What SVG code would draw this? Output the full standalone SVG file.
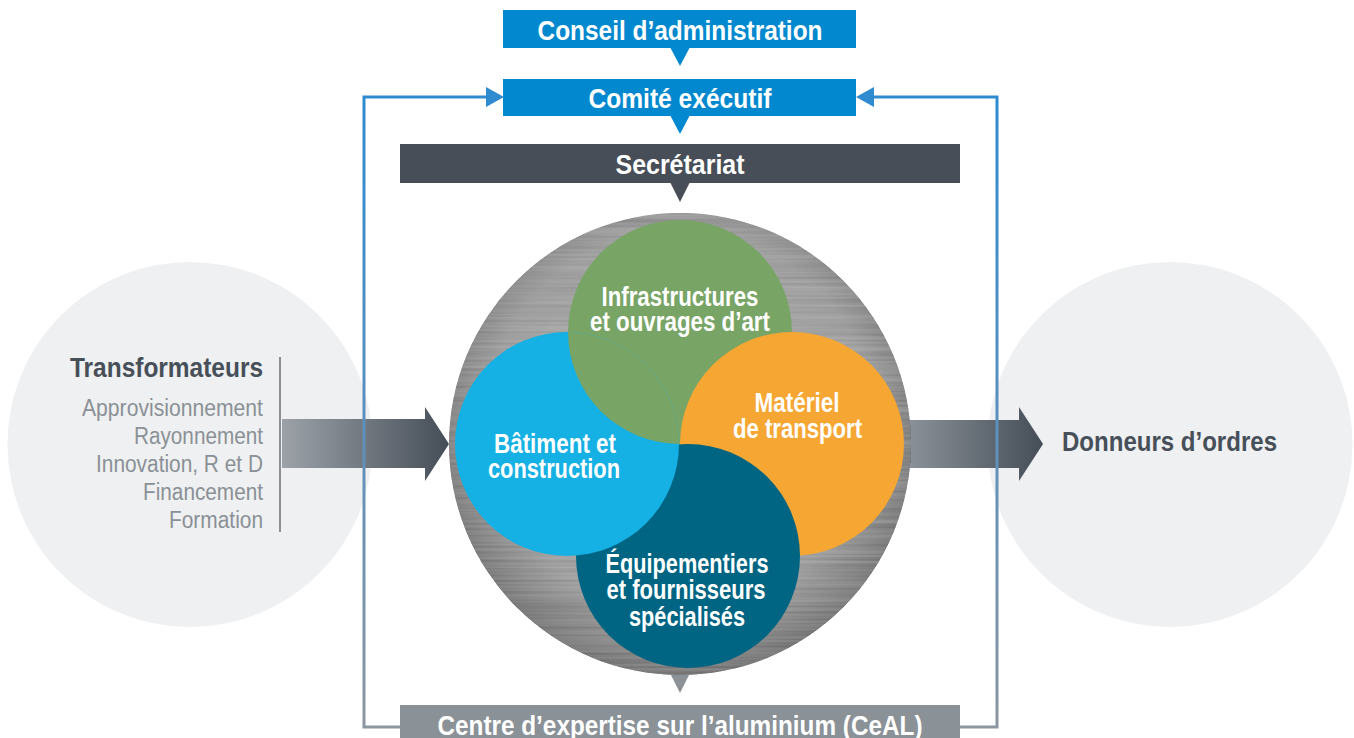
<svg xmlns="http://www.w3.org/2000/svg" width="1354" height="738" viewBox="0 0 1354 738">
<style>
.t{font-family:"Liberation Sans Narrow","Liberation Sans",Arial,sans-serif;font-weight:bold;}
.w{fill:#ffffff;}
.box{font-size:28px;}
.c{font-size:27px;text-anchor:middle;}
.dk{fill:#474F59;}
.lst{font-family:"Liberation Sans Narrow","Liberation Sans",Arial,sans-serif;font-size:23px;fill:#8A9096;text-anchor:end;}
.blue{fill:#0288CE;}
</style>
<defs>
<linearGradient id="loopg" gradientUnits="userSpaceOnUse" x1="0" y1="97" x2="0" y2="728">
<stop offset="0" stop-color="#2E8BD0"/>
<stop offset="0.5" stop-color="#5A90BE"/>
<stop offset="1" stop-color="#8C96A0"/>
</linearGradient>
<linearGradient id="la" gradientUnits="userSpaceOnUse" x1="282" y1="0" x2="449" y2="0">
<stop offset="0" stop-color="#9CA2A8"/>
<stop offset="1" stop-color="#454D57"/>
</linearGradient>
<linearGradient id="ra" gradientUnits="userSpaceOnUse" x1="905" y1="0" x2="1043" y2="0">
<stop offset="0" stop-color="#8C939A"/>
<stop offset="1" stop-color="#454D57"/>
</linearGradient>
<radialGradient id="metal" cx="0.5" cy="0.45" r="0.55">
<stop offset="0" stop-color="#B4B4B4"/>
<stop offset="0.75" stop-color="#A0A0A0"/>
<stop offset="1" stop-color="#7A7A7A"/>
</radialGradient>
<filter id="brush" x="0" y="0" width="100%" height="100%">
<feTurbulence type="fractalNoise" baseFrequency="0.004 0.35" numOctaves="2" seed="4"/>
<feColorMatrix type="matrix" values="1 0 0 0 0 1 0 0 0 0 1 0 0 0 0 0 0 0 0 1"/>
<feComposite in2="SourceGraphic" operator="in" result="n"/>
<feComposite in="SourceGraphic" in2="n" operator="arithmetic" k1="0" k2="1" k3="0.16" k4="-0.08"/>
</filter>
<clipPath id="blueclip"><circle cx="567" cy="444" r="112"/></clipPath>
</defs>

<g id="transformateurs">
<circle cx="190" cy="444.5" r="182.5" fill="#EFF0F1"/>
<text class="t dk" font-size="27" x="263" y="377" text-anchor="end" textLength="193" lengthAdjust="spacingAndGlyphs">Transformateurs</text>
<text class="lst" x="263" y="416" textLength="181" lengthAdjust="spacingAndGlyphs">Approvisionnement</text>
<text class="lst" x="263" y="444" textLength="129" lengthAdjust="spacingAndGlyphs">Rayonnement</text>
<text class="lst" x="263" y="472" textLength="167" lengthAdjust="spacingAndGlyphs">Innovation, R et D</text>
<text class="lst" x="263" y="500" textLength="120" lengthAdjust="spacingAndGlyphs">Financement</text>
<text class="lst" x="263" y="528" textLength="94" lengthAdjust="spacingAndGlyphs">Formation</text>
<line x1="280" y1="357" x2="280" y2="532" stroke="#8A9096" stroke-width="2"/>
</g>

<g id="donneurs">
<circle cx="1170" cy="444.5" r="182.5" fill="#EFF0F1"/>
<text class="t dk" font-size="27" x="1062" y="451" textLength="215" lengthAdjust="spacingAndGlyphs">Donneurs d’ordres</text>
</g>

<g id="connectors">
<polygon points="282,419 425,419 425,407 449,444 425,481 425,468 282,468" fill="url(#la)"/>
<polygon points="880,420 1019,420 1019,407 1043,444 1019,481 1019,468 880,468" fill="url(#ra)"/>
<path d="M488 97 H364 V727 H400 M960 727 H997 V97 H872" fill="none" stroke="url(#loopg)" stroke-width="3"/>
<polygon points="486,87 504,97 486,107" fill="#2E8BD0"/>
<polygon points="874,87 856,97 874,107" fill="#2E8BD0"/>
<polygon points="670,47 690,47 680,66" fill="#0288CE"/>
<polygon points="670,115 690,115 680,134" fill="#0288CE"/>
<polygon points="670,182 690,182 680,202" fill="#474E57"/>
<polygon points="671,675 689,675 680,693" fill="#8A9197"/>
</g>

<g id="conseil">
<rect x="503" y="10" width="353" height="38" class="blue"/>
<text class="t box w" x="680" y="39.5" text-anchor="middle" textLength="285" lengthAdjust="spacingAndGlyphs">Conseil d’administration</text>
</g>
<g id="comite">
<rect x="503" y="79" width="353" height="37" class="blue"/>
<text class="t box w" x="680" y="107.5" text-anchor="middle" textLength="183" lengthAdjust="spacingAndGlyphs">Comité exécutif</text>
</g>
<g id="secretariat">
<rect x="400" y="144" width="560" height="39" fill="#474E57"/>
<text class="t box w" x="680" y="174" text-anchor="middle" textLength="129" lengthAdjust="spacingAndGlyphs">Secrétariat</text>
</g>
<g id="ceal">
<rect x="400" y="705" width="560" height="33" fill="#8A9197"/>
<text class="t box w" x="680" y="734.5" text-anchor="middle" textLength="485" lengthAdjust="spacingAndGlyphs">Centre d’expertise sur l’aluminium (CeAL)</text>
</g>

<g id="aluminium">
<circle cx="680" cy="444" r="231" fill="url(#metal)" filter="url(#brush)"/>
</g>

<g id="infrastructures">
<circle cx="680" cy="332" r="112" fill="#78A466"/>
</g>
<g id="materiel">
<circle cx="792" cy="444" r="112" fill="#F6A632"/>
</g>
<g id="equipementiers">
<circle cx="688" cy="556" r="112" fill="#006583"/>
</g>
<g id="batiment">
<circle cx="567" cy="444" r="112" fill="#15B0E4"/>
</g>
<g id="infrastructures-overlap">
<circle cx="680" cy="332" r="112" fill="#78A466" clip-path="url(#blueclip)"/>
</g>

<g id="labels">
<text class="t c w" x="680" y="306" textLength="157" lengthAdjust="spacingAndGlyphs">Infrastructures</text>
<text class="t c w" x="680" y="331" textLength="180" lengthAdjust="spacingAndGlyphs">et ouvrages d’art</text>
<text class="t c w" x="797" y="412" textLength="85" lengthAdjust="spacingAndGlyphs">Matériel</text>
<text class="t c w" x="797.5" y="438" textLength="129" lengthAdjust="spacingAndGlyphs">de transport</text>
<text class="t c w" x="555" y="453" textLength="122" lengthAdjust="spacingAndGlyphs">Bâtiment et</text>
<text class="t c w" x="554" y="478" textLength="132" lengthAdjust="spacingAndGlyphs">construction</text>
<text class="t c w" x="687" y="573" textLength="163" lengthAdjust="spacingAndGlyphs">Équipementiers</text>
<text class="t c w" x="686" y="599" textLength="159" lengthAdjust="spacingAndGlyphs">et fournisseurs</text>
<text class="t c w" x="687" y="626" textLength="116" lengthAdjust="spacingAndGlyphs">spécialisés</text>
</g>
</svg>
